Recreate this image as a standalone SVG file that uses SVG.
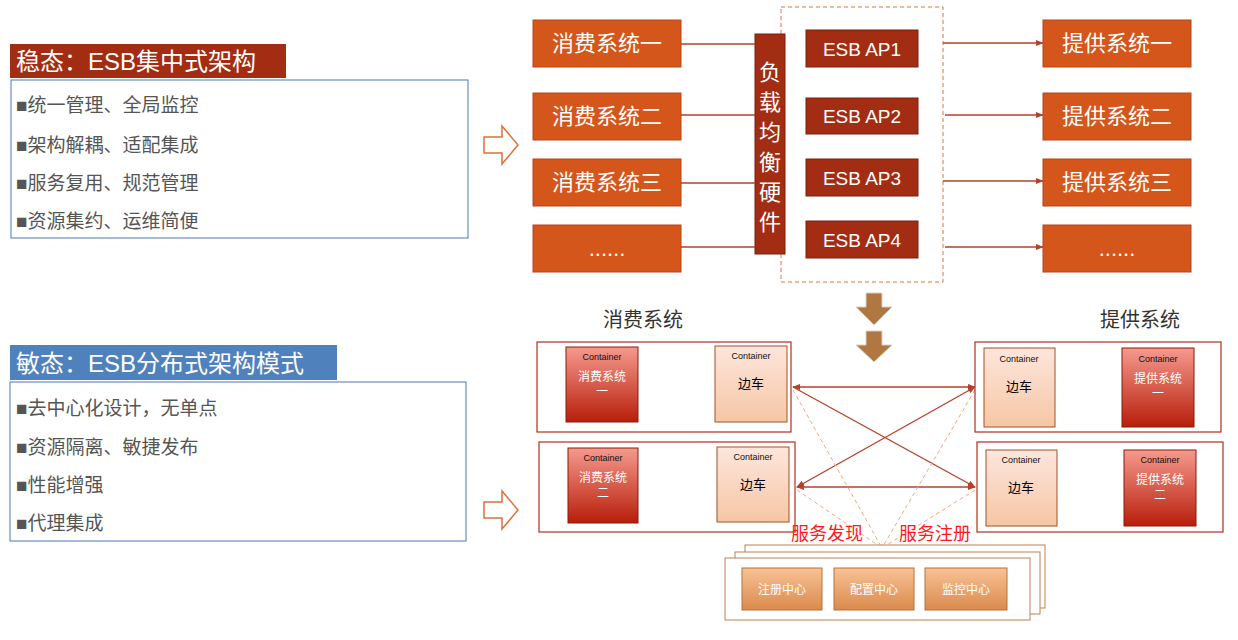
<svg xmlns="http://www.w3.org/2000/svg" width="1238" height="640" viewBox="0 0 1238 640">
<defs>
<style>
text{font-family:"Liberation Sans","Noto Sans CJK SC",sans-serif}
.sys{fill:#d4561a;stroke:#b8441a;stroke-width:1}
.st{fill:#fff;font-size:22px;text-anchor:middle}
.ap{fill:#a22d12;stroke:#7a1f0c}
.bl{fill:#555;font-size:19px}
.ln{stroke:#b4412a;stroke-width:1.3;fill:none}
.red{fill:url(#gr);stroke:#8a1a0a}
.pk{fill:url(#gp);stroke:#a0532a}
.ct{font-size:9px;fill:#111;text-anchor:middle}
.frm{fill:#fff;stroke:#b0301a;stroke-width:1.2}
.ds{stroke:#f4a882;stroke-width:1;stroke-dasharray:4 3;fill:none}
.cen{fill:url(#go);stroke:#b8703a}
</style>
<linearGradient id="gr" x1="0" y1="0" x2="0" y2="1"><stop offset="0" stop-color="#f59a8e"/><stop offset="1" stop-color="#b81e0a"/></linearGradient>
<linearGradient id="gp" x1="0" y1="0" x2="0" y2="1"><stop offset="0" stop-color="#fde6dc"/><stop offset="1" stop-color="#f6c6a4"/></linearGradient>
<linearGradient id="go" x1="0" y1="0" x2="0" y2="1"><stop offset="0" stop-color="#f9c296"/><stop offset="1" stop-color="#da8a4c"/></linearGradient>
<marker id="ar" viewBox="0 0 10 10" refX="9" refY="5" markerWidth="6" markerHeight="6" orient="auto-start-reverse"><path d="M0,1 L10,5 L0,9 z" fill="#b4412a"/></marker>
</defs>

<g id="left-top">
<rect x="10" y="44" width="276" height="34" fill="#a22d12"/>
<text x="16" y="70" font-size="24" fill="#fff">稳态：ESB集中式架构</text>
<rect x="11" y="80" width="457" height="158" fill="#fff" stroke="#4a7ab8"/>
<text class="bl" x="16" y="112">■统一管理、全局监控</text>
<text class="bl" x="16" y="152">■架构解耦、适配集成</text>
<text class="bl" x="16" y="190">■服务复用、规范管理</text>
<text class="bl" x="16" y="228">■资源集约、运维简便</text>
</g>
<g id="left-bottom">
<rect x="10" y="345" width="327" height="35" fill="#4f81bd"/>
<text x="16" y="372" font-size="24" fill="#fff">敏态：ESB分布式架构模式</text>
<rect x="10" y="382" width="456" height="159" fill="#fff" stroke="#4a7ab8"/>
<text class="bl" x="16" y="415">■去中心化设计，无单点</text>
<text class="bl" x="16" y="454">■资源隔离、敏捷发布</text>
<text class="bl" x="16" y="492">■性能增强</text>
<text class="bl" x="16" y="530">■代理集成</text>
</g>
<g id="hollow-arrows" fill="#fff" stroke="#e0703a" stroke-width="1.5">
<path d="M484,137 H502 V126 L518,145 L502,164 V153 H484 Z"/>
<path d="M484,502 H502 V491 L518,510 L502,529 V518 H484 Z"/>
</g>

<g id="consumers">
<rect class="sys" x="533" y="20" width="148" height="47"/><text class="st" x="607" y="51">消费系统一</text>
<rect class="sys" x="533" y="93" width="148" height="47"/><text class="st" x="607" y="124">消费系统二</text>
<rect class="sys" x="533" y="159" width="148" height="47"/><text class="st" x="607" y="190">消费系统三</text>
<rect class="sys" x="533" y="225" width="148" height="47"/><text class="st" x="607" y="256">......</text>
</g>
<g id="providers">
<rect class="sys" x="1043" y="20" width="148" height="47"/><text class="st" x="1117" y="51">提供系统一</text>
<rect class="sys" x="1043" y="93" width="148" height="47"/><text class="st" x="1117" y="124">提供系统二</text>
<rect class="sys" x="1043" y="159" width="148" height="47"/><text class="st" x="1117" y="190">提供系统三</text>
<rect class="sys" x="1043" y="225" width="148" height="47"/><text class="st" x="1117" y="256">......</text>
</g>
<g id="esb">
<rect x="781" y="7" width="162" height="275" fill="none" stroke="#e0703a" stroke-dasharray="4 3"/>
<rect class="ap" x="806" y="30" width="112" height="37"/><text x="862" y="56" font-size="19" fill="#fff" text-anchor="middle">ESB AP1</text>
<rect class="ap" x="806" y="98" width="112" height="36"/><text x="862" y="123" font-size="19" fill="#fff" text-anchor="middle">ESB AP2</text>
<rect class="ap" x="806" y="159" width="112" height="37"/><text x="862" y="185" font-size="19" fill="#fff" text-anchor="middle">ESB AP3</text>
<rect class="ap" x="806" y="221" width="112" height="37"/><text x="862" y="247" font-size="19" fill="#fff" text-anchor="middle">ESB AP4</text>
</g>
<g id="lb">
<rect class="ap" x="755" y="34" width="30" height="220"/>
<text font-size="22" fill="#fff" text-anchor="middle"><tspan x="770" y="80">负</tspan><tspan x="770" y="110">载</tspan><tspan x="770" y="140">均</tspan><tspan x="770" y="170">衡</tspan><tspan x="770" y="200">硬</tspan><tspan x="770" y="230">件</tspan></text>
</g>

<g id="connectors">
<line class="ln" x1="681" y1="44" x2="755" y2="44"/>
<line class="ln" x1="681" y1="115" x2="755" y2="115"/>
<line class="ln" x1="681" y1="183" x2="755" y2="183"/>
<line class="ln" x1="681" y1="247" x2="755" y2="247"/>
<line class="ln" x1="943" y1="43" x2="1043" y2="43" marker-end="url(#ar)"/>
<line class="ln" x1="945" y1="115" x2="1043" y2="115" marker-end="url(#ar)"/>
<line class="ln" x1="943" y1="181" x2="1043" y2="181" marker-end="url(#ar)"/>
<line class="ln" x1="945" y1="247" x2="1043" y2="247" marker-end="url(#ar)"/>
<line class="ln" x1="638" y1="372" x2="715" y2="372" marker-end="url(#ar)"/>
<line class="ln" x1="715" y1="396" x2="638" y2="396" marker-end="url(#ar)"/>
<line class="ln" x1="638" y1="473" x2="717" y2="473" marker-end="url(#ar)"/>
<line class="ln" x1="717" y1="497" x2="638" y2="497" marker-end="url(#ar)"/>
<line class="ln" x1="1055" y1="375" x2="1122" y2="375" marker-end="url(#ar)"/>
<line class="ln" x1="1122" y1="398" x2="1055" y2="398" marker-end="url(#ar)"/>
<line class="ln" x1="1057" y1="476" x2="1124" y2="476" marker-end="url(#ar)"/>
<line class="ln" x1="1124" y1="499" x2="1057" y2="499" marker-end="url(#ar)"/>
<line class="ln" x1="793" y1="387" x2="975" y2="387" marker-start="url(#ar)" marker-end="url(#ar)"/>
<line class="ln" x1="793" y1="387" x2="975" y2="487" marker-end="url(#ar)"/>
<line class="ln" x1="797" y1="487" x2="975" y2="387" marker-start="url(#ar)" marker-end="url(#ar)"/>
<line class="ln" x1="797" y1="487" x2="975" y2="487" marker-start="url(#ar)" marker-end="url(#ar)"/>
<path class="ds" d="M793,390 L882,548 M797,490 L882,548 M975,390 L882,548 M975,490 L882,548"/>
</g>

<g id="down-arrows" fill="#b07840" stroke="#d8d0c8" stroke-width="1">
<path d="M866,293 H882 V307 H892 L874,325 L856,307 H866 Z"/>
<path d="M866,331 H882 V345 H892 L874,362 L856,345 H866 Z"/>
</g>
<text x="643" y="327" font-size="20" fill="#333" text-anchor="middle" font-family="Liberation Serif,Noto Sans CJK SC,serif">消费系统</text>
<text x="1140" y="327" font-size="20" fill="#333" text-anchor="middle" font-family="Liberation Serif,Noto Sans CJK SC,serif">提供系统</text>

<g id="consumer1">
<rect class="frm" x="537" y="342" width="254" height="90"/>
<rect class="red" x="566" y="347" width="72" height="75"/>
<text class="ct" x="602" y="360">Container</text>
<text x="602" y="381" font-size="12" fill="#fff" text-anchor="middle">消费系统</text><text x="602" y="396" font-size="12" fill="#fff" text-anchor="middle">一</text>
<rect class="pk" x="715" y="346" width="72" height="76"/>
<text class="ct" x="751" y="359">Container</text><text x="751" y="388" font-size="13" text-anchor="middle">边车</text>
</g>
<g id="consumer2">
<rect class="frm" x="539" y="442" width="256" height="90"/>
<rect class="red" x="568" y="448" width="70" height="75"/>
<text class="ct" x="603" y="461">Container</text>
<text x="603" y="482" font-size="12" fill="#fff" text-anchor="middle">消费系统</text><text x="603" y="497" font-size="12" fill="#fff" text-anchor="middle">二</text>
<rect class="pk" x="717" y="447" width="72" height="75"/>
<text class="ct" x="753" y="460">Container</text><text x="753" y="489" font-size="13" text-anchor="middle">边车</text>
</g>
<g id="provider1">
<rect class="frm" x="975" y="342" width="246" height="90"/>
<rect class="pk" x="984" y="348" width="71" height="79"/>
<text class="ct" x="1019" y="362">Container</text><text x="1019" y="391" font-size="13" text-anchor="middle">边车</text>
<rect class="red" x="1122" y="348" width="72" height="79"/>
<text class="ct" x="1158" y="362">Container</text>
<text x="1158" y="383" font-size="12" fill="#fff" text-anchor="middle">提供系统</text><text x="1158" y="398" font-size="12" fill="#fff" text-anchor="middle">一</text>
</g>
<g id="provider2">
<rect class="frm" x="977" y="442" width="246" height="90"/>
<rect class="pk" x="986" y="450" width="71" height="76"/>
<text class="ct" x="1021" y="463">Container</text><text x="1021" y="492" font-size="13" text-anchor="middle">边车</text>
<rect class="red" x="1124" y="450" width="72" height="76"/>
<text class="ct" x="1160" y="463">Container</text>
<text x="1160" y="484" font-size="12" fill="#fff" text-anchor="middle">提供系统</text><text x="1160" y="499" font-size="12" fill="#fff" text-anchor="middle">二</text>
</g>
<text x="827" y="540" font-size="18" fill="#ff1a1a" text-anchor="middle">服务发现</text>
<text x="935" y="540" font-size="18" fill="#ff1a1a" text-anchor="middle">服务注册</text>

<g id="center">
<rect x="745" y="545" width="300" height="63" fill="#fff" stroke="#c08050"/>
<rect x="735" y="552" width="305" height="62" fill="#fff" stroke="#c08050"/>
<rect x="725" y="558" width="305" height="62" fill="#fff" stroke="#c08050"/>
<rect class="cen" x="742" y="568" width="80" height="42"/><text x="782" y="594" font-size="12" fill="#fff" text-anchor="middle">注册中心</text>
<rect class="cen" x="834" y="568" width="80" height="42"/><text x="874" y="594" font-size="12" fill="#fff" text-anchor="middle">配置中心</text>
<rect class="cen" x="925" y="568" width="82" height="42"/><text x="966" y="594" font-size="12" fill="#fff" text-anchor="middle">监控中心</text>
</g>
</svg>
